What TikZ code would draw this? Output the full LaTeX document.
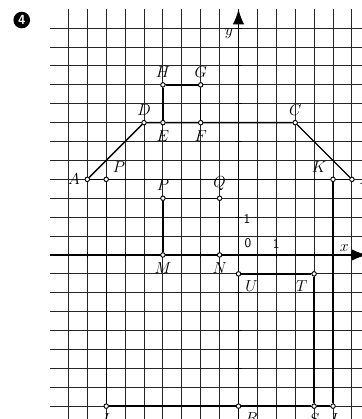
\documentclass[tikz,border=0pt]{standalone}
\usepackage{amsmath}
\usepackage{tikz}
\usetikzlibrary{arrows.meta}

\begin{document}
\begin{tikzpicture}[x=0.5cm,y=0.5cm,semithick,every label/.style={font=\fontsize{11.5}{13}\selectfont}]
	\tikzstyle{gridline}=[draw=black!85,line width=0.75pt]
	\tikzstyle{side}=[draw=black,line width=1pt]
	\tikzstyle{vert}=[draw,circle,fill=white,inner sep=1.2pt,line width=0.7pt,label distance=-1.5pt]
	\tikzstyle{axis}=[line width=0.9pt,-{Latex[length=4mm,width=3mm]}]
	\tikzstyle{num}=[font=\sffamily,inner sep=1pt]
	\useasboundingbox (-12.62,-8.68) rectangle (6.53,13.49);
		% grid
		\foreach \i in {-9,...,6}{
			\draw[gridline] (\i,-9) -- (\i,13);
			}
		\foreach \j in {-8,...,12}{
			\draw[gridline] (-10,\j) -- (7,\j);
			}
		% axes
		\coordinate (xs) at (-10,0);
		\coordinate (xe) at (6.8,0);
		\coordinate (ys) at (0,-9);
		\coordinate (ye) at (0,13);
		\draw[axis] (xs) -- (xe);
		\draw[axis] (ys) -- (ye);
		\foreach \k in {-8,-6,...,6}{
			\draw[line width=0.8pt] (\k,-0.18) -- (\k,0.18);
			}
		\foreach \k in {-8,-6,...,12}{
			\draw[line width=0.8pt] (-0.18,\k) -- (0.18,\k);
			}
		\node[font=\fontsize{11.5}{13}\selectfont] (ylab) at (-0.5,11.7) {$y$};
		\node[font=\fontsize{11.5}{13}\selectfont] (xlab) at (5.6,0.35) {$x$};
		\node[num] (o) at (0.5,0.6) {0};
		\node[num] (one x) at (2,0.6) {1};
		\node[num] (one y) at (0.45,1.9) {1};
		% badge
		\node[circle,fill=black,text=white,inner sep=0pt,minimum size=0.44cm,font=\sffamily\bfseries] (badge) at (-11.47,12.43) {4};
		% points
		\node[vert,label={left:$A$}]  (A) at (-8,4) {};
		\node[vert,label={right:$B$}]  (B) at (6,4) {};
		\node[vert,label={above:$C$}]  (C) at (3,7) {};
		\node[vert,label={above:$D$}]  (D) at (-5,7) {};
		\node[vert,label={below:$E$}]  (E) at (-4,7) {};
		\node[vert,label={below:$F$}]  (F) at (-2,7) {};
		\node[vert,label={above:$G$}]  (G) at (-2,9) {};
		\node[vert,label={above:$H$}]  (H) at (-4,9) {};
		\node[vert,label={above right:$P$}]  (P1) at (-7,4) {};
		\node[vert,label={above left:$K$}]  (K) at (5,4) {};
		\node[vert,label={below:$I$}]  (I) at (-7,-8) {};
		\node[vert,label={below:$J$}]  (J) at (5,-8) {};
		\node[vert,label={below right:$R$}]  (R) at (0,-8) {};
		\node[vert,label={below:$S$}]  (S) at (4,-8) {};
		\node[vert,label={below left:$T$}]  (T) at (4,-1) {};
		\node[vert,label={below right:$U$}]  (U) at (0,-1) {};
		\node[vert,label={above:$P$}]  (P2) at (-4,3) {};
		\node[vert,label={above:$Q$}]  (Q) at (-1,3) {};
		\node[vert,label={below:$N$}]  (N) at (-1,0) {};
		\node[vert,label={below:$M$}]  (M) at (-4,0) {};
		% house
		\draw[side] (A) -- (D) -- (E) -- (F) -- (C) -- (B);
		\draw[side] (A) -- (P1) -- (K) -- (B);
		\draw[side] (E) -- (H) -- (G) -- (F);
		\draw[side] (P1) -- (I) -- (R) -- (S) -- (J) -- (K);
		\draw[side] (R) -- (U) -- (T) -- (S);
		\draw[side] (P2) -- (Q) -- (N) -- (M) -- (P2);
\end{tikzpicture}
\end{document}
